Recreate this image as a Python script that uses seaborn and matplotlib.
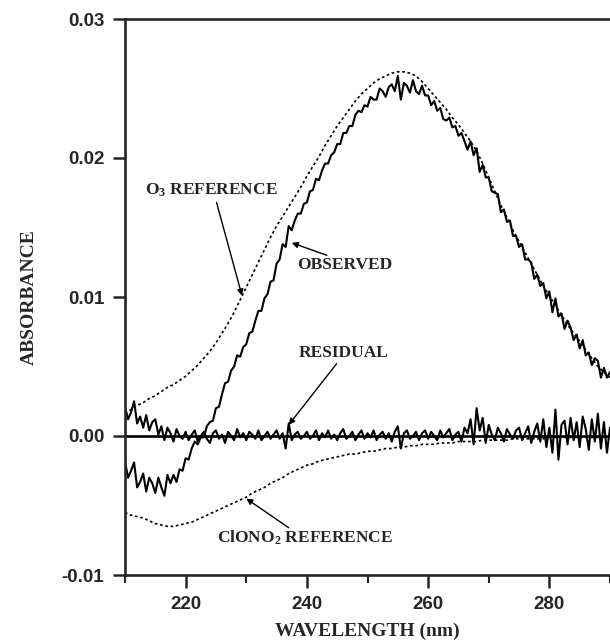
import numpy as np
import matplotlib
matplotlib.use("Agg")
import matplotlib.pyplot as plt
import seaborn as sns

# -----------------------------
# Data
# -----------------------------
# fine grid for the measured traces (0.5 nm), coarse grid for the references (1 nm)
wl_fine = np.linspace(210, 290, 161)
wl_ref = np.linspace(210, 290, 81)

observed = [
    -0.0018, -0.0030, -0.0025, -0.0019, -0.0037, -0.0033, -0.0027, -0.0040, -0.0030, -0.0034,
    -0.0041, -0.0030, -0.0037, -0.0043, -0.0028, -0.0034, -0.0028, -0.0033, -0.0024, -0.0025,
    -0.0016, -0.0017, -0.0009, -0.0004, -0.0006, -0.0001, -0.0001, 0.0007, 0.0010, 0.0011,
    0.0020, 0.0021, 0.0030, 0.0038, 0.0039, 0.0047, 0.0050, 0.0058, 0.0057, 0.0064,
    0.0066, 0.0074, 0.0075, 0.0083, 0.0090, 0.0090, 0.0099, 0.0102, 0.0111, 0.0112,
    0.0124, 0.0127, 0.0138, 0.0136, 0.0151, 0.0148, 0.0155, 0.0160, 0.0160, 0.0167,
    0.0168, 0.0176, 0.0177, 0.0185, 0.0184, 0.0191, 0.0196, 0.0196, 0.0202, 0.0204,
    0.0210, 0.0210, 0.0218, 0.0218, 0.0223, 0.0223, 0.0231, 0.0234, 0.0233, 0.0238,
    0.0237, 0.0244, 0.0242, 0.0242, 0.0250, 0.0248, 0.0244, 0.0251, 0.0253, 0.0248,
    0.0259, 0.0242, 0.0254, 0.0252, 0.0247, 0.0256, 0.0248, 0.0246, 0.0252, 0.0245,
    0.0245, 0.0238, 0.0241, 0.0234, 0.0236, 0.0228, 0.0227, 0.0229, 0.0222, 0.0223,
    0.0216, 0.0218, 0.0212, 0.0206, 0.0212, 0.0202, 0.0207, 0.0190, 0.0195, 0.0186,
    0.0186, 0.0176, 0.0175, 0.0174, 0.0161, 0.0163, 0.0154, 0.0155, 0.0144, 0.0144,
    0.0136, 0.0138, 0.0127, 0.0127, 0.0125, 0.0113, 0.0116, 0.0108, 0.0110, 0.0099,
    0.0104, 0.0089, 0.0099, 0.0086, 0.0088, 0.0077, 0.0083, 0.0078, 0.0069, 0.0073,
    0.0063, 0.0069, 0.0058, 0.0060, 0.0051, 0.0056, 0.0054, 0.0042, 0.0049, 0.0042,
    0.0046,
]

residual = [
    0.0021, 0.0012, 0.0017, 0.0025, 0.0009, 0.0014, 0.0006, 0.0015, 0.0004, 0.0010,
    0.0012, 0.0001, 0.0007, -0.0003, 0.0006, 0.0002, -0.0004, 0.0005, 0.0000, -0.0002,
    0.0003, -0.0003, 0.0001, 0.0004, -0.0004, 0.0000, 0.0003, -0.0002, -0.0005, 0.0002,
    0.0004, -0.0002, 0.0001, -0.0005, 0.0003, 0.0000, -0.0003, 0.0005, -0.0001, 0.0002,
    -0.0003, 0.0003, 0.0001, -0.0002, 0.0004, -0.0003, 0.0000, 0.0003, -0.0002, 0.0001,
    0.0004, -0.0002, 0.0002, -0.0009, 0.0009, -0.0003, 0.0001, 0.0003, -0.0002, 0.0000,
    0.0003, -0.0002, 0.0000, 0.0004, -0.0003, 0.0002, -0.0001, 0.0004, -0.0002, 0.0001,
    -0.0003, 0.0002, 0.0005, -0.0002, 0.0000, 0.0003, -0.0003, 0.0001, 0.0004, -0.0002,
    0.0002, -0.0001, 0.0004, -0.0003, 0.0001, 0.0003, -0.0002, 0.0002, -0.0004, 0.0003,
    0.0007, -0.0009, 0.0002, 0.0004, -0.0002, 0.0000, 0.0003, -0.0003, 0.0002, 0.0004,
    -0.0002, 0.0003, 0.0000, -0.0003, 0.0004, -0.0001, 0.0002, 0.0005, -0.0003, 0.0001,
    0.0003, -0.0004, 0.0006, 0.0002, 0.0012, -0.0006, 0.0020, 0.0004, 0.0013, -0.0005,
    0.0008, 0.0001, -0.0003, 0.0006, 0.0002, -0.0004, 0.0005, 0.0001, -0.0002, 0.0004,
    0.0006, -0.0003, 0.0002, 0.0007, -0.0005, 0.0003, 0.0009, -0.0004, 0.0012, -0.0008,
    0.0006, -0.0012, 0.0019, -0.0017, 0.0008, 0.0011, -0.0006, 0.0013, -0.0003, 0.0010,
    -0.0008, 0.0014, 0.0005, -0.0010, 0.0012, -0.0004, 0.0016, -0.0009, 0.0010, -0.0012,
    0.0006,
]

o3_reference = [
    0.0016, 0.0019, 0.0022, 0.0024, 0.0027, 0.0029, 0.0032, 0.0035, 0.0037, 0.0040,
    0.0043, 0.0047, 0.0051, 0.0056, 0.0061, 0.0067, 0.0074, 0.0081, 0.0089, 0.0098,
    0.0107, 0.0116, 0.0125, 0.0134, 0.0143, 0.0151, 0.0158, 0.0165, 0.0172, 0.0179,
    0.0187, 0.0194, 0.0201, 0.0209, 0.0216, 0.0223, 0.0229, 0.0235, 0.0241, 0.0246,
    0.0250, 0.0254, 0.0257, 0.0259, 0.0261, 0.0262, 0.0262, 0.0261, 0.0259, 0.0255,
    0.0250, 0.0245, 0.0240, 0.0235, 0.0229, 0.0224, 0.0218, 0.0212, 0.0205, 0.0196,
    0.0186, 0.0176, 0.0166, 0.0157, 0.0148, 0.0140, 0.0132, 0.0124, 0.0116, 0.0108,
    0.0101, 0.0094, 0.0087, 0.0080, 0.0074, 0.0068, 0.0062, 0.0056, 0.0050, 0.0046,
    0.0042,
]

clono2_reference = [
    -0.0055, -0.0057, -0.0058, -0.0059, -0.0061, -0.0063, -0.0064, -0.0065, -0.0065, -0.0064,
    -0.0063, -0.0062, -0.0060, -0.0058, -0.0056, -0.0054, -0.0052, -0.0050, -0.0048, -0.0046,
    -0.0044, -0.0041, -0.0039, -0.0037, -0.0034, -0.0032, -0.0030, -0.0027, -0.0025, -0.0023,
    -0.0021, -0.0020, -0.0018, -0.0017, -0.0016, -0.0015, -0.0014, -0.0013, -0.0013, -0.0012,
    -0.0011, -0.0011, -0.0010, -0.0009, -0.0009, -0.0008, -0.0008, -0.0007, -0.0007, -0.0006,
    -0.0006, -0.0006, -0.0005, -0.0005, -0.0005, -0.0004, -0.0004, -0.0004, -0.0004, -0.0003,
    -0.0003, -0.0003, -0.0003, -0.0003, -0.0002, -0.0002, -0.0002, -0.0002, -0.0002, -0.0002,
    -0.0001, -0.0001, -0.0001, -0.0001, -0.0001, -0.0001, -0.0001, -0.0001, -0.0001, -0.0001,
    -0.0001,
]

x_major = [220, 240, 260, 280]
x_minor = [210, 230, 250, 270, 290]
y_ticks = [-0.01, 0.0, 0.01, 0.02, 0.03]
y_labels = ["-0.01", "0.00", "0.01", "0.02", "0.03"]

# -----------------------------
# Style
# -----------------------------
sns.set_style("ticks")
plt.rcParams["font.family"] = ["Liberation Sans", "DejaVu Sans"]
plt.rcParams["mathtext.fontset"] = "custom"
plt.rcParams["mathtext.rm"] = "Liberation Serif:bold"
plt.rcParams["mathtext.it"] = "Liberation Serif:bold"
plt.rcParams["mathtext.default"] = "rm"

serif = ["Liberation Serif", "DejaVu Serif"]

fig = plt.figure(figsize=(6.1, 6.43), dpi=100)
ax = fig.add_axes([125 / 610, 1 - 575 / 643, 485 / 610, 556 / 643])

# -----------------------------
# Curves
# -----------------------------
ax.axhline(0, color="black", lw=1.9, zorder=1)

sns.lineplot(x=wl_ref, y=o3_reference, ax=ax, color="black",
             lw=1.2, linestyle=(0, (1.6, 1.6)))
sns.lineplot(x=wl_ref, y=clono2_reference, ax=ax, color="black",
             lw=1.2, linestyle=(0, (1.6, 1.6)))
sns.lineplot(x=wl_fine, y=residual, ax=ax, color="black", lw=1.5)
sns.lineplot(x=wl_fine, y=observed, ax=ax, color="black", lw=1.5)

# -----------------------------
# Axes
# -----------------------------
ax.set_xlim(210, 289.5)
ax.set_ylim(-0.01, 0.03)

ax.set_xticks(x_major)
ax.set_xticks(x_minor, minor=True)
ax.set_yticks(y_ticks)
ax.set_yticklabels(y_labels)

ax.tick_params(axis="both", which="major", direction="out", length=9,
               width=1.8, labelsize=13.5, pad=6)
ax.tick_params(axis="x", which="minor", direction="out", length=6, width=1.5)
for lab in ax.get_xticklabels() + ax.get_yticklabels():
    lab.set_fontweight("bold")

for side in ["left", "bottom", "top"]:
    ax.spines[side].set_linewidth(1.9)
ax.spines["right"].set_visible(False)

ax.set_xlabel("WAVELENGTH (nm)", family=serif, fontweight="bold",
              fontsize=14, labelpad=7)
ax.set_ylabel("ABSORBANCE", family=serif, fontweight="bold",
              fontsize=14, labelpad=17)

# -----------------------------
# Annotations
# -----------------------------
arrow = dict(arrowstyle="-|>", color="black", lw=1.0, mutation_scale=9,
             shrinkA=0, shrinkB=0)
text_kw = dict(family=serif, fontweight="bold", fontsize=12.5,
               ha="center", va="center")

ax.annotate("", xy=(229.3, 0.0101), xytext=(225.1, 0.0168), arrowprops=arrow)
ax.text(224.3, 0.0177, "O$_3$ REFERENCE", **text_kw)

ax.annotate("", xy=(237.5, 0.0139), xytext=(243.3, 0.0130), arrowprops=arrow)
ax.text(246.2, 0.0123, "OBSERVED", **text_kw)

ax.annotate("", xy=(237.0, 0.0008), xytext=(244.9, 0.0052), arrowprops=arrow)
ax.text(246.1, 0.0060, "RESIDUAL", **text_kw)

ax.annotate("", xy=(230.0, -0.0045), xytext=(237.0, -0.0066), arrowprops=arrow)
ax.text(239.7, -0.0073, "ClONO$_2$ REFERENCE", **text_kw)

fig.savefig("out.png", dpi=100)
plt.close(fig)
